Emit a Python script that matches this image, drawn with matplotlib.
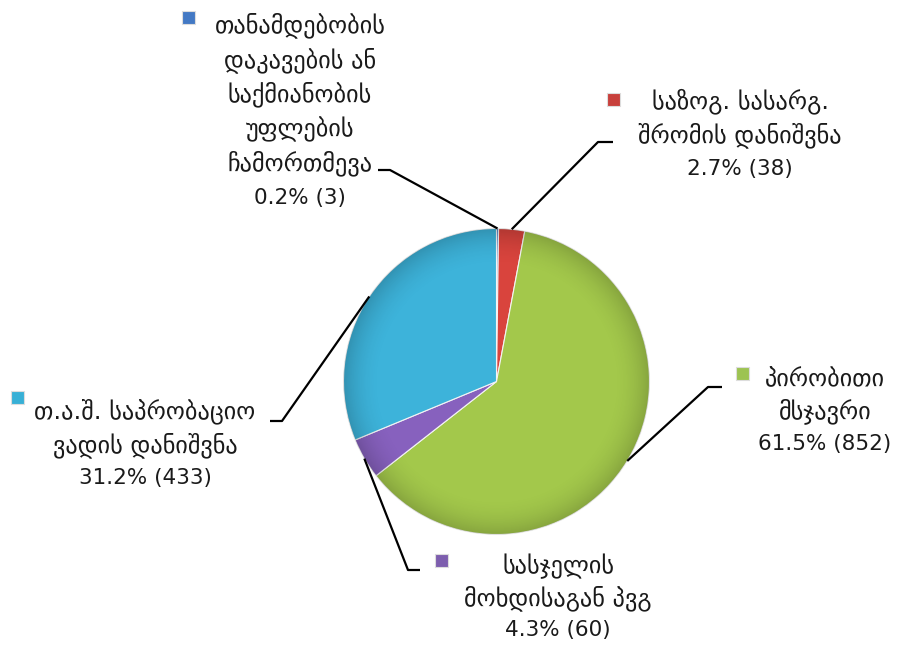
import numpy as np
import matplotlib
matplotlib.use('Agg')
import matplotlib.pyplot as plt
from matplotlib.patches import Rectangle, Circle

plt.rcParams['font.family'] = ['DejaVu Sans']

# data
categories = [['თანამდებობის', 'დაკავების ან', 'საქმიანობის', 'უფლების', 'ჩამორთმევა'],
              ['საზოგ. სასარგ.', 'შრომის დანიშვნა'],
              ['პირობითი', 'მსჯავრი'],
              ['სასჯელის', 'მოხდისაგან პვგ'],
              ['თ.ა.შ. საპრობაციო', 'ვადის დანიშვნა']]
counts = [3, 38, 852, 60, 433]
percents = ['0.2%', '2.7%', '61.5%', '4.3%', '31.2%']

colors = ['#4A7EC8', '#D9443D', '#A3C84B', '#8761BE', '#3DB3DA']
marker_colors = ['#4379C4', '#C8403C', '#9DC352', '#7D5EAE', '#38B0D6']

# layout (pixels, y down)
W, H = 899, 649
cx, cy, R = 496.5, 381.5, 153
label_x = [300, 740, 825, 558, 145]
baselines = [[32, 67, 101, 136, 170, 204], [108, 142, 175], [386, 418, 450],
             [573, 605, 636], [418, 452, 484]]
marker_pos = [(188, 17), (613, 99), (742, 373), (441, 560), (17, 397)]
elbow = [((378, 170), (390, 170)), ((613, 142), (598, 142)),
         ((722, 387), (708, 387)), ((420, 570), (408, 570)),
         ((270, 421), (282, 421))]

fig = plt.figure(figsize=(W / 100, H / 100), dpi=100)
ax = fig.add_axes([0, 0, 1, 1])

wedges, _ = ax.pie(counts, colors=colors, startangle=-90, counterclock=True,
                   center=(cx, cy), radius=R,
                   wedgeprops=dict(edgecolor='#f4f4f4', linewidth=0.8))

# soft shading toward the rim
yy, xx = np.mgrid[0:H, 0:W]
rr = np.hypot(xx - cx, yy - cy) / R
shade = np.zeros((H, W, 4))
shade[..., 3] = np.clip((rr - 0.75) / 0.25, 0, 1) ** 2 * 0.18
im = ax.imshow(shade, extent=(0, W, H, 0), zorder=3)
im.set_clip_path(Circle((cx, cy), R, transform=ax.transData))

for i, w in enumerate(wedges):
    th = np.deg2rad((w.theta1 + w.theta2) / 2)
    ex, ey = cx + R * np.cos(th), cy + R * np.sin(th)
    (x0, y0), (x1, y1) = elbow[i]
    ax.plot([x0, x1, ex], [y0, y1, ey], color='black', lw=1.6,
            solid_capstyle='butt', zorder=4)

    lines = categories[i] + [percents[i] + ' (' + str(counts[i]) + ')']
    for j, line in enumerate(lines):
        fs = 15.5 if j == len(lines) - 1 else 17.5
        ax.text(label_x[i], baselines[i][j], line, ha='center', va='baseline',
                fontsize=fs, color='#1a1a1a')

    mx, my = marker_pos[i]
    ax.add_patch(Rectangle((mx - 6.5, my - 6.5), 13, 13, facecolor=marker_colors[i],
                           edgecolor='#dddddd', linewidth=0.8, zorder=5))

ax.set_xlim(0, W)
ax.set_ylim(H, 0)
ax.set_aspect('equal')
ax.axis('off')

fig.savefig('out.png', dpi=100, facecolor='white')
